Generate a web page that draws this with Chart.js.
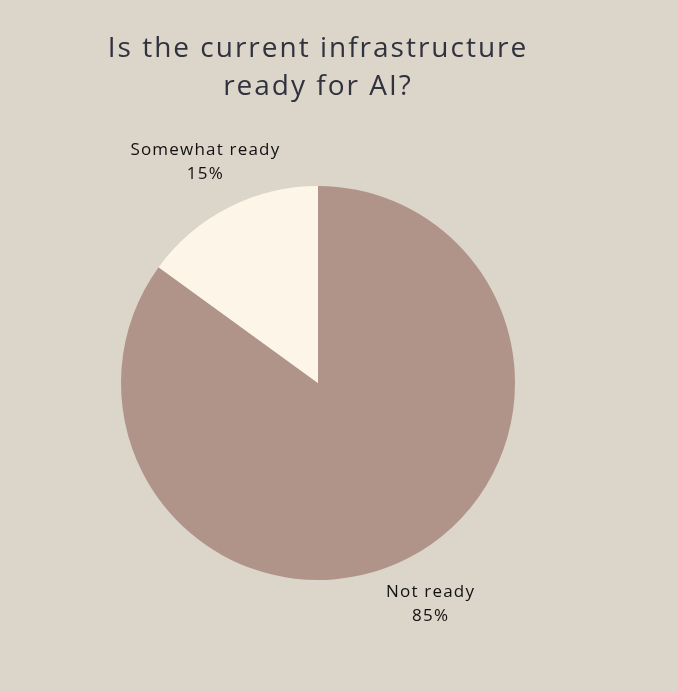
<!DOCTYPE html>
<html>
<head>
<meta charset="utf-8">
<script src="https://cdn.jsdelivr.net/npm/chart.js@4/dist/chart.umd.min.js"></script>
<style>
html,body{margin:0;padding:0;background:#dcd5ca;}
#wrap{width:677px;height:691px;position:relative;}
</style>
</head>
<body>
<div id="wrap"><canvas id="c" width="677" height="691"></canvas></div>
<script>
const titleLines = ["Is the current infrastructure", "ready for AI?"];
const categories = ["Not ready", "Somewhat ready"];
const values = [85, 15];
const colors = ["#b09489", "#fdf6e8"];

const labelPlugin = {
  id: 'outLabels',
  afterDraw(chart) {
    const ctx = chart.ctx;
    const meta = chart.getDatasetMeta(0);
    ctx.save();
    ctx.font = '400 17px "Open Sans"';
    ctx.fillStyle = '#111111';
    ctx.textAlign = 'center';
    ctx.textBaseline = 'middle';
    try { ctx.letterSpacing = '1.2px'; } catch(e) {}
    meta.data.forEach((arc, i) => {
      const mid = (arc.startAngle + arc.endAngle) / 2;
      const r = arc.outerRadius + 51;
      const x = arc.x + Math.cos(mid) * r;
      const y = arc.y + Math.sin(mid) * r;
      ctx.fillText(categories[i], x, y - 12);
      ctx.fillText(values[i] + '%', x, y + 12);
    });
    ctx.restore();
  }
};

const titlePlugin = {
  id: 'titleLines',
  afterDraw(chart) {
    const ctx = chart.ctx;
    ctx.save();
    ctx.font = '400 28px "Open Sans"';
    ctx.fillStyle = '#30323d';
    ctx.textAlign = 'center';
    ctx.textBaseline = 'alphabetic';
    try { ctx.letterSpacing = '2px'; } catch(e) {}
    const cx = (chart.chartArea.left + chart.chartArea.right) / 2;
    ctx.fillText(titleLines[0], cx, 57);
    ctx.fillText(titleLines[1], cx, 95);
    ctx.restore();
  }
};

new Chart(document.getElementById('c'), {
  type: 'pie',
  data: {
    labels: categories,
    datasets: [{
      data: values,
      backgroundColor: colors,
      borderWidth: 0
    }]
  },
  options: {
    responsive: false,
    animation: false,
    layout: { padding: { left: 121, right: 162, top: 186, bottom: 111 } },
    plugins: {
      legend: { display: false },
      tooltip: { enabled: false },
      title: { display: false }
    }
  },
  plugins: [labelPlugin, titlePlugin]
});
</script>
</body>
</html>
